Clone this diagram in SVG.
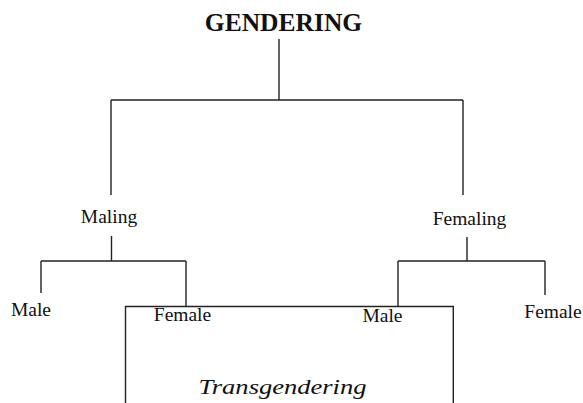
<svg xmlns="http://www.w3.org/2000/svg" width="583" height="403" viewBox="0 0 583 403">
  <style>
    .lbl { font-family: "Liberation Serif", "Times New Roman", serif; font-size: 19.5px; fill: #111; }
    .title { font-family: "Liberation Serif", "Times New Roman", serif; font-size: 25.5px; font-weight: bold; fill: #111; }
    .ital { font-family: "Liberation Serif", "Times New Roman", serif; font-size: 20px; font-style: italic; fill: #111; }
    .ln { fill: none; stroke: #222; stroke-width: 1.4; }
  </style>
  <rect width="583" height="403" fill="#fff"/>

  <!-- connectors -->
  <g id="connectors" class="ln">
    <path d="M279 39 V100 M111 100 H463 M111 100 V195 M463 100 V195"/>
    <path d="M111.5 236 V261 M41 261 H186 M41 261 V293 M186 261 V306"/>
    <path d="M467 237 V261 M398 261 H545 M398 261 V306 M545 261 V295"/>
  </g>

  <g id="gendering">
    <text class="title" x="283.5" y="31" text-anchor="middle">GENDERING</text>
  </g>
  <g id="maling">
    <text class="lbl" x="109" y="223" text-anchor="middle">Maling</text>
  </g>
  <g id="femaling">
    <text class="lbl" x="469.5" y="225" text-anchor="middle">Femaling</text>
  </g>
  <g id="male-left">
    <text class="lbl" x="31" y="316" text-anchor="middle" font-size="19">Male</text>
  </g>
  <g id="female-right">
    <text class="lbl" x="553" y="317.5" text-anchor="middle" font-size="19">Female</text>
  </g>

  <!-- transgendering box with the crossed-over labels -->
  <g id="transgendering">
    <path class="ln" d="M125.5 403 V306.5 H453.3 V403"/>
    <text class="lbl" x="182.5" y="320.5" text-anchor="middle" font-size="19">Female</text>
    <text class="lbl" x="382.5" y="321.5" text-anchor="middle" font-size="19">Male</text>
    <text class="ital" x="198.5" y="394.3" textLength="168" lengthAdjust="spacingAndGlyphs">Transgendering</text>
  </g>
</svg>
